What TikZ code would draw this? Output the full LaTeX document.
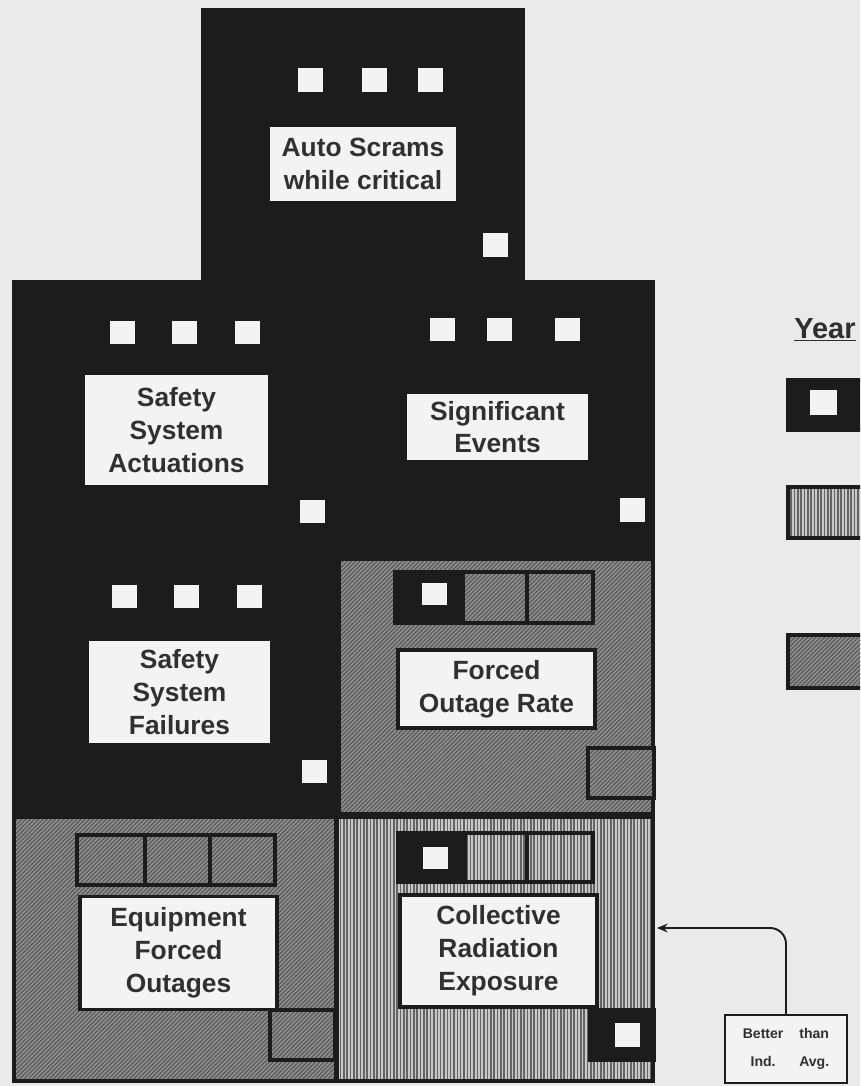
\documentclass[tikz,border=0pt]{standalone}
\usepackage{fontspec}
\setmainfont{Liberation Sans}
\usepackage{tikz}
\usetikzlibrary{patterns.meta,arrows.meta}

\definecolor{ink}{RGB}{28,28,28}
\definecolor{paper}{RGB}{234,234,234}
\definecolor{card}{RGB}{243,243,243}
\definecolor{txt}{RGB}{48,48,48}
\definecolor{hatchbase}{RGB}{145,145,145}
\definecolor{hatchline}{RGB}{88,88,88}
\definecolor{stripebase}{RGB}{200,200,200}
\definecolor{stripeline}{RGB}{100,100,100}

\tikzset{
  hatchcell/.style={draw=ink, line width=2.4pt, preaction={fill=hatchbase},
    pattern={Lines[angle=45,distance=1.7pt,line width=0.7pt]}, pattern color=hatchline},
  stripecell/.style={draw=ink, line width=2.4pt, preaction={fill=stripebase},
    pattern={Lines[angle=90,distance=1.9pt,line width=0.9pt]}, pattern color=stripeline},
  blackcell/.style={draw=ink, line width=2.4pt, fill=ink},
  lamp/.style={fill=card},
  textbox/.style 2 args={draw=ink, line width=2pt, fill=card, text=txt, inner sep=0pt,
    font=\fontsize{15}{18.7}\selectfont\bfseries, align=center,
    minimum width=#1*0.02cm, minimum height=#2*0.02cm}
}

\begin{document}
\begin{tikzpicture}[x=0.02cm,y=-0.02cm] % 1 unit = 1 pixel of the scan

    % 1. Khung hình và nền
    \clip (0,0) rectangle (860,1086);
    \fill[paper] (0,0) rectangle (860,1086);

    % 2. Khối đen: tháp trên và thân chính
    \fill[ink] (201,8) rectangle (525,282);
    \fill[ink] (12,280) rectangle (655,1083);

    % 3. Các ô có vân
    \draw[hatchcell] (339,559) rectangle (653,814);   % Forced Outage Rate
    \draw[hatchcell] (14,817) rectangle (336,1081);   % Equipment Forced Outages
    \draw[stripecell] (337,817) rectangle (653,1081); % Collective Radiation Exposure

    % 4. Các ô vuông trắng nhỏ
    \foreach \x in {298,362,418} \fill[lamp] (\x,68) rectangle ++(25,24);
    \fill[lamp] (483,233) rectangle ++(25,24);
    \foreach \x in {110,172,235} \fill[lamp] (\x,321) rectangle ++(25,23);
    \fill[lamp] (300,500) rectangle ++(25,23);
    \foreach \x in {430,487,555} \fill[lamp] (\x,318) rectangle ++(25,23);
    \fill[lamp] (620,498) rectangle ++(25,24);
    \foreach \x in {112,174,237} \fill[lamp] (\x,585) rectangle ++(25,23);
    \fill[lamp] (302,760) rectangle ++(25,23);

    % 5. Dải ba ô của các ô có vân
    \draw[blackcell] (395,572) rectangle (463,623);
    \fill[lamp] (422,583) rectangle ++(25,22);
    \draw[hatchcell] (463,572) rectangle (527,623);
    \draw[hatchcell] (527,572) rectangle (593,623);
    \draw[hatchcell] (588,748) rectangle (654,798);

    \draw[hatchcell] (77,835) rectangle (145,885);
    \draw[hatchcell] (145,835) rectangle (210,885);
    \draw[hatchcell] (210,835) rectangle (275,885);
    \draw[hatchcell] (270,1010) rectangle (335,1060);

    \draw[blackcell] (398,833) rectangle (465,882);
    \fill[lamp] (423,847) rectangle ++(25,22);
    \draw[stripecell] (465,833) rectangle (527,882);
    \draw[stripecell] (527,833) rectangle (593,882);
    \draw[blackcell] (590,1010) rectangle (654,1060);
    \fill[lamp] (615,1023) rectangle ++(25,24);

    % 6. Các nhãn chỉ số
    \node[textbox={190}{78}]  (scram) at (363,164)   {Auto Scrams\\while critical};
    \node[textbox={187}{114}] (ssa)   at (176.5,430) {Safety\\System\\Actuations};
    \node[textbox={185}{70}]  (sig)   at (497.5,427) {Significant\\Events};
    \node[textbox={185}{105}] (ssf)   at (179.5,692) {Safety\\System\\Failures};
    \node[textbox={197}{78}]  (forate) at (496.5,689) {Forced\\Outage Rate};
    \node[textbox={197}{113}] (efo)   at (178.5,953) {Equipment\\Forced\\Outages};
    \node[textbox={197}{112}] (cre)   at (498.5,951) {Collective\\Radiation\\Exposure};

    % 7. Chú giải bên phải
    \node[anchor=base west, text=txt, inner sep=0pt,
          font=\fontsize{16.5}{20}\selectfont\bfseries] (yearhead) at (794,338) {\underline{Year}};
    \draw[blackcell] (788,380) rectangle (880,430);
    \fill[lamp] (810,390) rectangle (837,415);
    \draw[stripecell] (788,487) rectangle (880,538);
    \draw[hatchcell] (788,635) rectangle (880,688);

    % 8. Hộp "Better than Ind. Avg." và mũi tên
    \node[draw=ink, line width=1.1pt, fill=card, text=txt, inner sep=0pt,
          minimum width=122*0.02cm, minimum height=68*0.02cm,
          font=\fontsize{8}{9}\selectfont\bfseries] (better) at (786,1049)
          {\begin{tabular}{@{}c@{\hspace{9pt}}c@{}}Better & than\\[7pt] Ind. & Avg.\end{tabular}};
    \coordinate (creedge) at (657,928);
    \draw[draw=ink, line width=1.1pt, rounded corners=9pt,
          -{Stealth[length=6pt,width=5pt]}] (better.north) |- (creedge);

\end{tikzpicture}
\end{document}
